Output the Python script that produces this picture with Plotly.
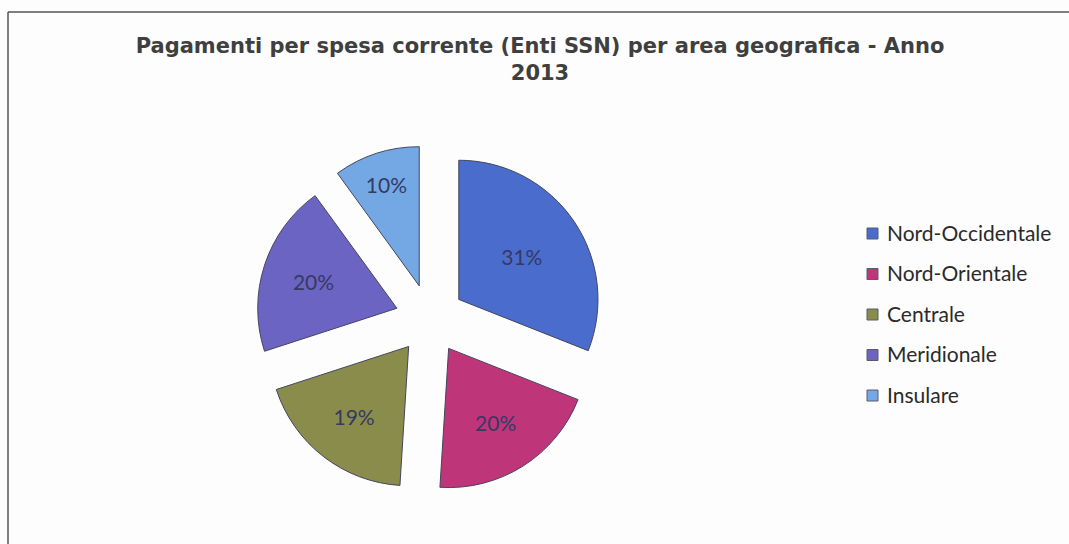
import plotly.graph_objects as go

# Regional shares of current health expenditure payments, 2013
areas = ["Nord-Occidentale", "Nord-Orientale", "Centrale", "Meridionale", "Insulare"]
shares = [31, 20, 19, 20, 10]
colors = ["#4a6ccc", "#bf357a", "#8a8c4c", "#6c64c2", "#74a8e4"]

W, H = 1069, 544

fig = go.Figure(
    go.Pie(
        labels=areas,
        values=shares,
        sort=False,
        direction="clockwise",
        rotation=0,
        pull=[0.25] * len(areas),
        marker=dict(colors=colors, line=dict(color="#45455e", width=1)),
        textinfo="percent",
        texttemplate="%{percent:.0%}",
        textposition="inside",
        insidetextorientation="horizontal",
        textfont=dict(family="Lato", size=21, color="#353a63"),
        domain=dict(x=[256 / W, 604 / W], y=[1 - 493 / H, 1 - 145 / H]),
        showlegend=False,
        hoverinfo="label+percent",
    )
)

# Legend drawn as swatches plus labels, one row per area
legend_x = 867
row_y0, row_step = 232, 40.5
shapes = []
annotations = []
for i, (name, col) in enumerate(zip(areas, colors)):
    yc = row_y0 + i * row_step
    shapes.append(dict(
        type="rect", xref="paper", yref="paper",
        x0=legend_x / W, x1=(legend_x + 11) / W,
        y0=1 - (yc + 7) / H, y1=1 - (yc - 4) / H,
        fillcolor=col, line=dict(color="#5a5a6a", width=1),
    ))
    annotations.append(dict(
        x=(legend_x + 18) / W, y=1 - yc / H, xref="paper", yref="paper",
        xanchor="left", yanchor="middle", showarrow=False, text=name,
        font=dict(family="Lato", size=21, color="#2a2a2a"),
    ))

# Frame around the chart area (top and left edges visible)
shapes.append(dict(type="line", xref="paper", yref="paper",
                   x0=8 / W, x1=1.0, y0=1 - 12 / H, y1=1 - 12 / H,
                   line=dict(color="#555555", width=1.5)))
shapes.append(dict(type="line", xref="paper", yref="paper",
                   x0=8 / W, x1=8 / W, y0=0, y1=1 - 12 / H,
                   line=dict(color="#555555", width=1.5)))

fig.update_layout(
    width=W, height=H,
    margin=dict(l=0, r=0, t=0, b=0),
    paper_bgcolor="#fdfdfd",
    plot_bgcolor="#fdfdfd",
    title=dict(
        text="<b>Pagamenti per spesa corrente (Enti SSN) per area geografica - Anno<br>2013</b>",
        x=540 / W, xanchor="center",
        y=1 - 53 / H, yanchor="top", yref="container",
        font=dict(family="DejaVu Sans", size=21, color="#3f3f3f"),
    ),
    shapes=shapes,
    annotations=annotations,
)

fig.write_html("out.html")
